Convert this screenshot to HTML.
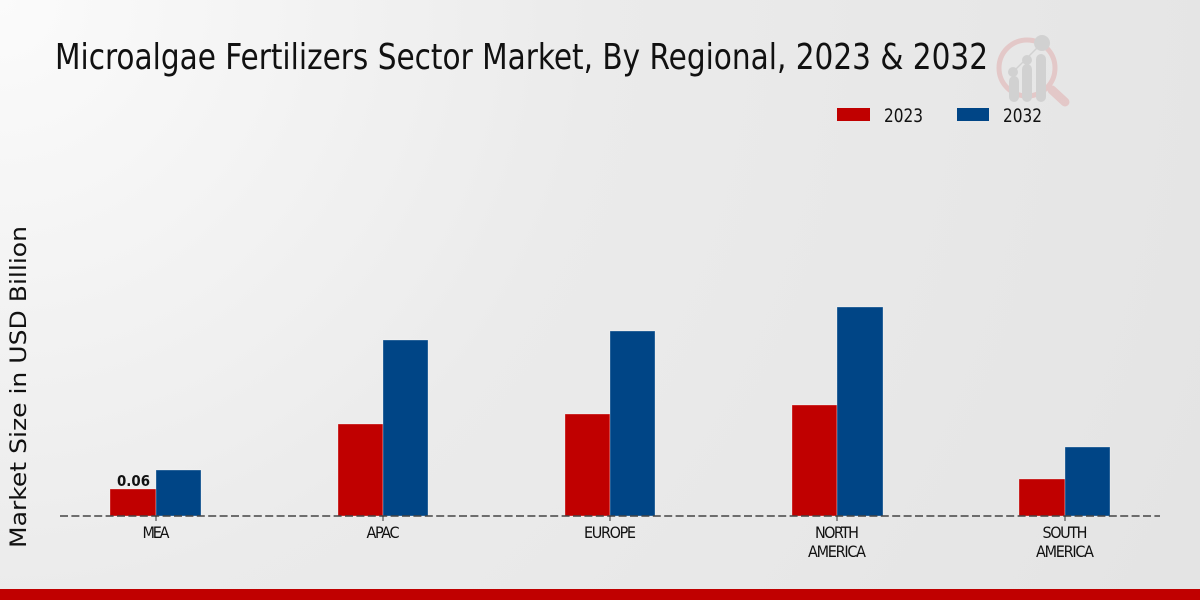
<!DOCTYPE html>
<html><head><meta charset="utf-8"><style>
html,body{margin:0;padding:0;}
body{width:1200px;height:600px;overflow:hidden;}
svg{display:block;}
</style></head><body>
<svg width="1200" height="600" viewBox="0 0 1200 600" xmlns="http://www.w3.org/2000/svg">
<defs>
<radialGradient id="bg" cx="0" cy="0" r="1.1" gradientUnits="objectBoundingBox" gradientTransform="scale(1,2)">
<stop offset="0" stop-color="#fbfbfb"/>
<stop offset="0.45" stop-color="#ebebeb"/>
<stop offset="1" stop-color="#e4e4e4"/>
</radialGradient>
</defs>
<rect x="0" y="0" width="1200" height="600" fill="url(#bg)"/>
<!-- logo -->
<g opacity="0.6">
<circle cx="1027" cy="68" r="28" fill="none" stroke="#e2b4b4" stroke-width="5"/>
<line x1="1052" y1="90" x2="1065" y2="102" stroke="#e2b4b4" stroke-width="9" stroke-linecap="round"/>
<rect x="1009" y="76" width="10" height="26" rx="5" fill="#c4c4c4"/>
<rect x="1022" y="64" width="10" height="38" rx="5" fill="#c4c4c4"/>
<rect x="1036" y="54" width="10" height="48" rx="5" fill="#c4c4c4"/>
<circle cx="1013" cy="72" r="5" fill="#c4c4c4"/>
<circle cx="1027" cy="60" r="5" fill="#c4c4c4"/>
<circle cx="1042" cy="43" r="8" fill="#c4c4c4"/>
<line x1="1013" y1="72" x2="1042" y2="43" stroke="#c4c4c4" stroke-width="1.5"/>
</g>
<text x="55" y="69" font-family="'DejaVu Sans Condensed','DejaVu Sans','Liberation Sans',sans-serif" font-size="36" fill="#111" textLength="933" lengthAdjust="spacingAndGlyphs">Microalgae Fertilizers Sector Market, By Regional, 2023 &amp; 2032</text>
<!-- legend -->
<rect x="837" y="108" width="33" height="13" fill="#c00000"/>
<text x="884" y="122" font-family="'DejaVu Sans Condensed','DejaVu Sans',sans-serif" font-size="19" fill="#111" textLength="39" lengthAdjust="spacingAndGlyphs">2023</text>
<rect x="957" y="108" width="32" height="13" fill="#004586"/>
<text x="1003" y="122" font-family="'DejaVu Sans Condensed','DejaVu Sans',sans-serif" font-size="19" fill="#111" textLength="39" lengthAdjust="spacingAndGlyphs">2032</text>
<!-- y label -->
<text transform="translate(26,387) rotate(-90)" text-anchor="middle" font-family="'DejaVu Sans','Liberation Sans',sans-serif" font-size="22" fill="#111" textLength="322" lengthAdjust="spacingAndGlyphs">Market Size in USD Billion</text>
<!-- bars -->
<g stroke="#ffffff" stroke-opacity="0.5" stroke-width="0.6">
<rect x="110" y="489" width="46" height="27" fill="#c00000"/>
<rect x="156" y="470" width="45" height="46" fill="#004586"/>
<rect x="338" y="424" width="45" height="92" fill="#c00000"/>
<rect x="383" y="340" width="45" height="176" fill="#004586"/>
<rect x="565" y="414" width="45" height="102" fill="#c00000"/>
<rect x="610" y="331" width="45" height="185" fill="#004586"/>
<rect x="792" y="405" width="45" height="111" fill="#c00000"/>
<rect x="837" y="307" width="46" height="209" fill="#004586"/>
<rect x="1019" y="479" width="46" height="37" fill="#c00000"/>
<rect x="1065" y="447" width="45" height="69" fill="#004586"/>
</g>
<line x1="60" y1="516" x2="1160" y2="516" stroke="#444" stroke-width="1.5" stroke-dasharray="8,3.4"/>
<g stroke="#333" stroke-width="1">
<line x1="156" y1="516" x2="156" y2="521"/>
<line x1="383" y1="516" x2="383" y2="521"/>
<line x1="610" y1="516" x2="610" y2="521"/>
<line x1="837" y1="516" x2="837" y2="521"/>
<line x1="1065" y1="516" x2="1065" y2="521"/>
</g>
<text x="117" y="486" font-family="'DejaVu Sans Condensed','DejaVu Sans',sans-serif" font-weight="bold" font-size="15" fill="#111" textLength="33" lengthAdjust="spacingAndGlyphs">0.06</text>
<g font-family="'DejaVu Sans Condensed','DejaVu Sans',sans-serif" font-size="16" fill="#111" lengthAdjust="spacingAndGlyphs">
<text x="142.5" y="538" textLength="27">MEA</text>
<text x="366.5" y="538" textLength="33">APAC</text>
<text x="584" y="538" textLength="52">EUROPE</text>
<text x="815" y="538" textLength="44">NORTH</text>
<text x="808" y="557" textLength="58">AMERICA</text>
<text x="1042.5" y="538" textLength="45">SOUTH</text>
<text x="1036" y="557" textLength="58">AMERICA</text>
</g>
<rect x="0" y="589" width="1200" height="11" fill="#c00000"/>
</svg>
</body></html>
